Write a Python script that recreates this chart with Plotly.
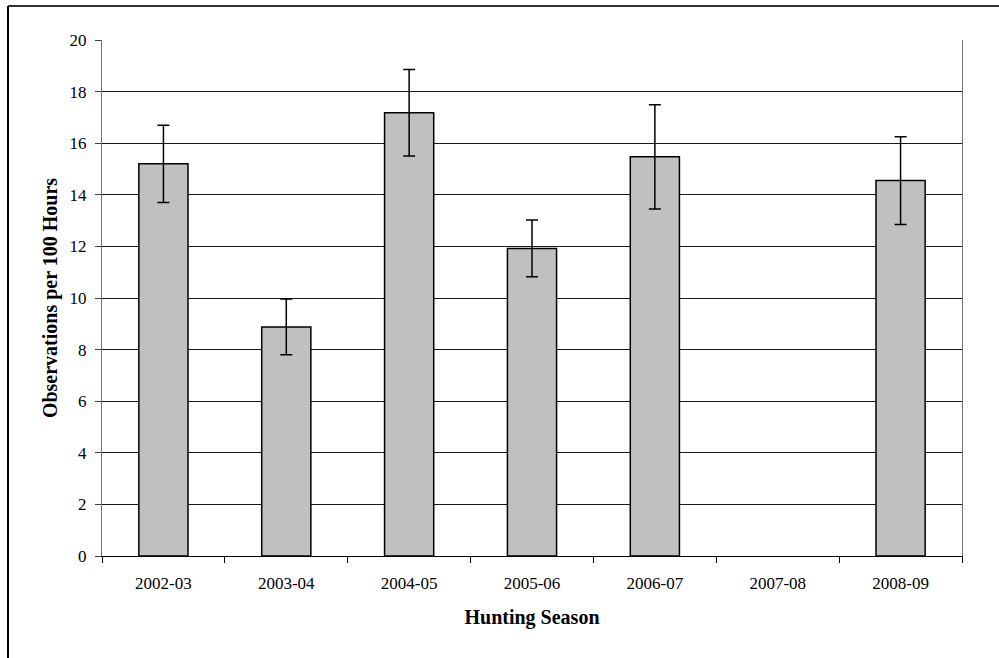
import plotly.graph_objects as go

seasons = ["2002-03", "2003-04", "2004-05", "2005-06", "2006-07", "2007-08", "2008-09"]
observations = [15.2, 8.88, 17.18, 11.92, 15.47, None, 14.55]
errors = [1.5, 1.08, 1.68, 1.1, 2.02, None, 1.7]
y_ticks = [0, 2, 4, 6, 8, 10, 12, 14, 16, 18, 20]

FONT = "Liberation Serif, Times New Roman, serif"

fig = go.Figure()
fig.add_trace(go.Bar(
    x=seasons,
    y=observations,
    marker=dict(color="#C0C0C0", line=dict(color="#000000", width=1.5)),
    error_y=dict(type="data", array=errors, visible=True,
                 color="#000000", thickness=1.5, width=6),
    showlegend=False,
))

fig.update_layout(
    width=999, height=658,
    margin=dict(l=102, r=37, t=40, b=102),
    paper_bgcolor="white", plot_bgcolor="white",
    bargap=0.6,
    font=dict(family=FONT, size=17, color="black"),
    xaxis=dict(
        type="category", categoryorder="array", categoryarray=seasons,
        range=[-0.5, 6.5],
        showline=True, linecolor="#000000", linewidth=1,
        ticks="outside", tickson="boundaries", ticklen=6, tickcolor="#000000",
        ticklabelstandoff=12,
        showgrid=False,
        tickfont=dict(family=FONT, size=17),
        title=dict(text="<b>Hunting Season</b>", font=dict(family=FONT, size=20), standoff=17),
    ),
    yaxis=dict(
        range=[0, 20], tickvals=y_ticks,
        showline=True, linecolor="#707070", linewidth=1, mirror=True,
        ticks="outside", ticklen=6, tickcolor="#404040",
        ticklabelstandoff=5,
        showgrid=True, gridcolor="#1a1a1a", gridwidth=1,
        zeroline=False,
        tickfont=dict(family=FONT, size=17),
        title=dict(text="<b>Observations per 100 Hours</b>", font=dict(family=FONT, size=20), standoff=6),
    ),
    shapes=[
        dict(type="line", xref="paper", yref="paper", x0=-0.1093, x1=1.05, y0=1.0659, y1=1.0659,
             line=dict(color="#333333", width=2)),
        dict(type="line", xref="paper", yref="paper", x0=-0.1093, x1=-0.1093, y0=-0.2, y1=1.0659,
             line=dict(color="#000000", width=2)),
    ],
)

fig.write_html("out.html", config={"displayModeBar": False},
               post_script="document.body.style.margin='0';")
